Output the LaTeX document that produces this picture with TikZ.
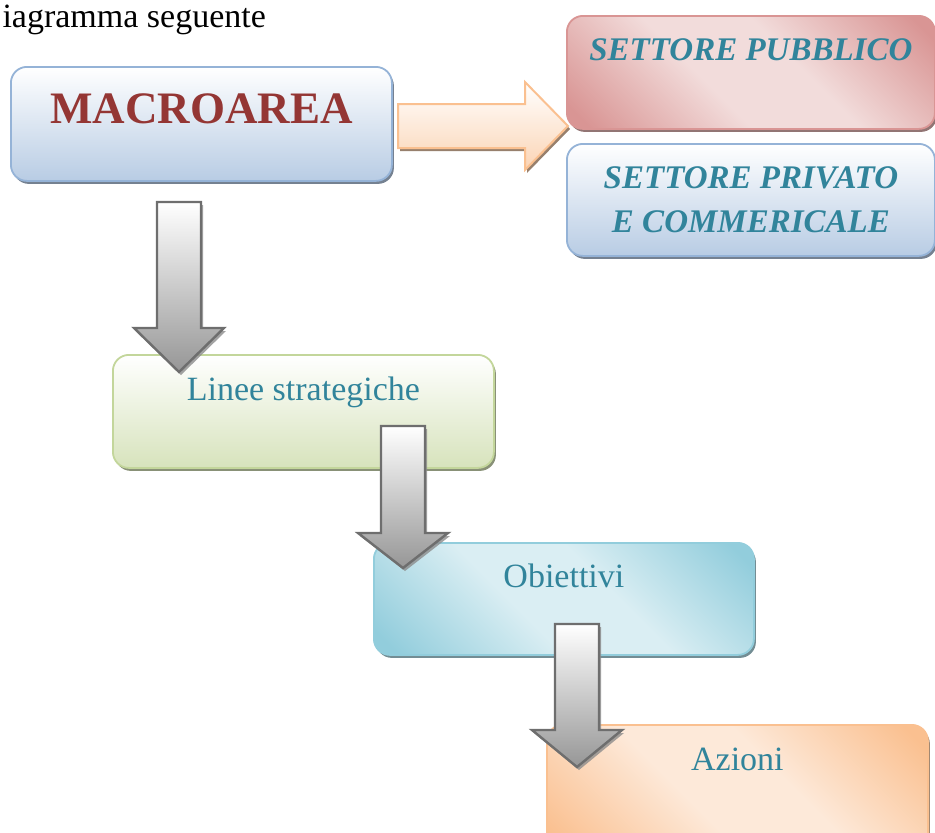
\documentclass[tikz,border=0pt]{standalone}
\usepackage{fontspec}
\setmainfont{Liberation Serif}
\usetikzlibrary{shadows}
\definecolor{BoxBlue}{RGB}{184,204,228}
\definecolor{BoxBlueLine}{RGB}{149,179,215}
\definecolor{RedDark}{RGB}{217,149,148}
\definecolor{RedLight}{RGB}{242,220,219}
\definecolor{GreenLight}{RGB}{215,227,188}
\definecolor{GreenLine}{RGB}{195,214,155}
\definecolor{CyanDark}{RGB}{146,205,220}
\definecolor{CyanLight}{RGB}{218,238,243}
\definecolor{OrangeDark}{RGB}{250,192,144}
\definecolor{OrangeLight}{RGB}{253,233,217}
\definecolor{OrangeArrow}{RGB}{251,212,180}
\definecolor{TitleRed}{RGB}{148,54,52}
\definecolor{LabelTeal}{RGB}{49,132,155}
\definecolor{ArrowGray}{RGB}{150,150,150}
\definecolor{ArrowEdge}{RGB}{110,110,110}
\pgfdeclarehorizontalshading{RedDiag}{100bp}{color(0bp)=(RedDark); color(18bp)=(RedDark); color(42bp)=(RedLight); color(58bp)=(RedLight); color(82bp)=(RedDark); color(100bp)=(RedDark)}
\pgfdeclarehorizontalshading{CyanDiag}{100bp}{color(0bp)=(CyanDark); color(18bp)=(CyanDark); color(42bp)=(CyanLight); color(58bp)=(CyanLight); color(82bp)=(CyanDark); color(100bp)=(CyanDark)}
\pgfdeclarehorizontalshading{OrangeDiag}{100bp}{color(0bp)=(OrangeDark); color(18bp)=(OrangeDark); color(42bp)=(OrangeLight); color(58bp)=(OrangeLight); color(82bp)=(OrangeDark); color(100bp)=(OrangeDark)}
\newcommand\macrofont{\fontsize{45}{54}\selectfont\bfseries}
\newcommand\sectorfont{\fontsize{33}{44}\selectfont\bfseries\itshape}
\newcommand\stagefont{\fontsize{34}{40}\selectfont}

\begin{document}
\begin{tikzpicture}[x=1pt, y=-1pt,
  panel/.style={draw=#1, line width=1.8pt, rounded corners=16pt, anchor=north west, inner sep=0pt,
    align=center, text=LabelTeal,
    drop shadow={shadow xshift=2pt, shadow yshift=-3pt, fill=#1!55!black, opacity=0.8}},
  blockarrow/.style={draw=ArrowEdge, line width=2.4pt, top color=white, bottom color=ArrowGray,
    drop shadow={shadow xshift=2pt, shadow yshift=-3pt, fill=black!45, opacity=0.8}}]
  \useasboundingbox (0,0) rectangle (935,833);

  \node[anchor=base west, font=\fontsize{34}{40}\selectfont] (intro) at (-1,27) {iagramma seguente};

  \node[panel=BoxBlueLine, top color=white, bottom color=BoxBlue, middle color=BoxBlue!50!white,
    minimum width=381pt, minimum height=114pt, text height=57pt, text depth=57pt,
    font=\macrofont, text=TitleRed] (macro) at (10,66) {MACROAREA};
  \node[panel=RedDark, shading=RedDiag, shading angle=45, minimum width=368pt, minimum height=113pt,
    text height=45pt, text depth=68pt, font=\sectorfont] (pubblico) at (566,15) {SETTORE PUBBLICO};
  \node[panel=BoxBlueLine, top color=white, bottom color=BoxBlue, middle color=BoxBlue!50!white,
    minimum width=368pt, minimum height=112pt, text height=89pt, text depth=23pt,
    font=\sectorfont] (privato) at (566,143) {SETTORE PRIVATO\\E COMMERICALE};

  \node[panel=GreenLine, top color=white, bottom color=GreenLight, middle color=GreenLight!50!white,
    minimum width=381pt, minimum height=113pt, text height=46pt, text depth=67pt,
    font=\stagefont] (linee) at (112,354) {Linee strategiche};
  \node[panel=CyanDark, shading=CyanDiag, shading angle=45, minimum width=380pt, minimum height=112pt,
    text height=45pt, text depth=67pt, font=\stagefont] (obiettivi) at (373,542) {Obiettivi};
  \node[panel=OrangeDark, shading=OrangeDiag, shading angle=45, minimum width=381pt, minimum height=130pt,
    text height=46pt, text depth=84pt, font=\stagefont] (azioni) at (546,724) {Azioni};

  % block arrows
  \draw[draw=OrangeDark, line width=2pt, top color=white, bottom color=OrangeArrow,
    drop shadow={shadow xshift=2pt, shadow yshift=-3pt, fill=OrangeDark!50!black, opacity=0.8}]
    (398,104) -- (525,104) -- (525,82) -- (568,126) -- (525,170) -- (525,148) -- (398,148) -- cycle;
  \foreach \cx/\ytop/\yneck/\ytip in {179/202/328/372, 403/426/533/568, 577/624/730/767}
    \draw[blockarrow] (\cx-22,\ytop) -- (\cx+22,\ytop) -- (\cx+22,\yneck) -- (\cx+45,\yneck)
      -- (\cx,\ytip) -- (\cx-45,\yneck) -- (\cx-22,\yneck) -- cycle;
\end{tikzpicture}
\end{document}
